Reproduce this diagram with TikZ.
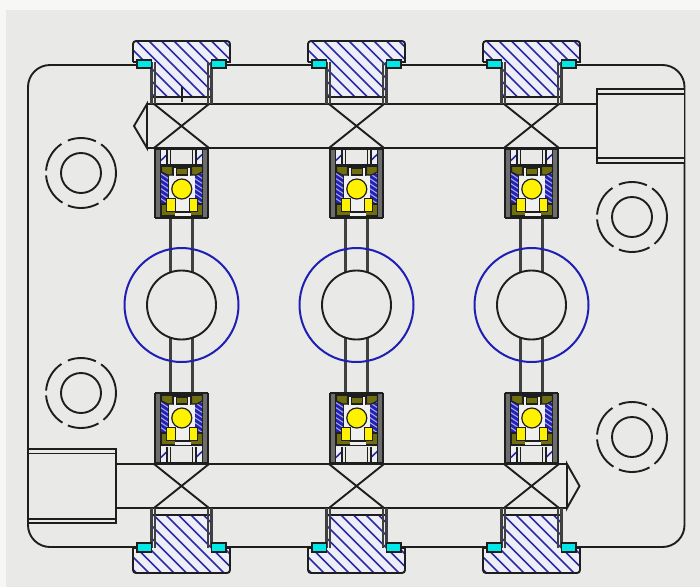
\documentclass[tikz,border=0pt]{standalone}
\definecolor{bgc}{HTML}{E9E9E7}
\definecolor{edgec}{HTML}{F7F7F5}
\definecolor{linec}{HTML}{1E1E1E}
\definecolor{hatchc}{HTML}{2A2AA8}
\definecolor{ringc}{HTML}{1F1FB4}
\definecolor{olivec}{HTML}{6F6F10}
\definecolor{yellowc}{HTML}{FFF200}
\definecolor{cyanc}{HTML}{00E8E8}
\definecolor{hatchbg}{HTML}{EEEEF6}
\definecolor{innerc}{HTML}{F0F0EE}
\tikzset{
  ln/.style={draw=linec,line width=1.9pt},
  vln/.style={draw=linec!85,line width=2.1pt},
  thin ln/.style={draw=linec,line width=1.7pt},
  hatchline/.style={draw=hatchc,line width=1.6pt},
  seal/.style={fill=cyanc,draw=linec,line width=1.6pt},
  ring/.style={draw=ringc,line width=2pt},
  olive/.style={fill=olivec,draw=linec,line width=1.2pt},
  ybox/.style={fill=yellowc,draw=linec,line width=.8pt},
}
% #1 cx, #2 outer head y, #3 join y, #4 neck end y, #5 channel y, #6 seal y1, #7 seal y2
\newcommand{\flng}[7]{
  \begin{scope}[shift={(#1,0)}]
    \begin{scope}
      \clip (-48.5,#3) [rounded corners=3pt]-- (-48.5,#2) -- (48.5,#2) [sharp corners]-- (48.5,#3) -- (30,#3) -- (30,#4) -- (-30,#4) -- (-30,#3) -- cycle;
      \fill[hatchbg] (-60,#2) rectangle (60,#4);
      \foreach \k in {-320,-307.5,...,120}
        \draw[hatchline] (\k,#2-100) -- ({\k+300},{#2+200});
    \end{scope}
    \draw[ln] (-48.5,#3) [rounded corners=3pt]-- (-48.5,#2) -- (48.5,#2) [sharp corners]-- (48.5,#3) -- (30,#3);
    \draw[ln] (-48.5,#3) -- (-30,#3);
    \draw[ln] (-29,#4) -- (29,#4);
    \draw[vln] (-30,#3) -- (-30,#5) (-26.5,#3) -- (-26.5,#5);
    \draw[vln] (30,#3) -- (30,#5) (26.5,#3) -- (26.5,#5);
    \filldraw[seal] (-44.5,#6) rectangle (-30,#7);
    \filldraw[seal] (30,#6) rectangle (44.5,#7);
  \end{scope}
}
% #1 cx, #2 y top, #3 y bottom, #4 hatch y1, #5 hatch y2
\newcommand{\bhouse}[5]{
  \begin{scope}[shift={(#1,0)}]
    \fill[bgc] (-26.5,#2) rectangle (26.5,#3);
    \fill[linec!65] (-26.5,#2) rectangle (-21,#3);
    \fill[linec!65] (21,#2) rectangle (26.5,#3);
    \foreach \s in {-1,1}{
      \begin{scope}
        \clip ({\s*21},#4) rectangle ({\s*14},#5);
        \fill[hatchbg] ({\s*21},#4) rectangle ({\s*14},#5);
        \foreach \k in {-24,-12,0,12}
          \draw[hatchline] ({\s*17.5-8+\k},#5) -- ({\s*17.5+8+\k},#4);
      \end{scope}
      \draw[thin ln] ({\s*26.5},#2) -- ({\s*26.5},#3);
      \draw[thin ln] ({\s*21},#2) -- ({\s*21},#3);
      \draw[thin ln] ({\s*14.5},#4) -- ({\s*14.5},#5);
      \draw[thin ln] ({\s*11},#4) -- ({\s*11},#5);
    }
    \draw[ln] (-26.5,#2) -- (26.5,#2);
    \draw[ln] (-26.5,#3) -- (26.5,#3);
  \end{scope}
}
% #1 cx, #2 dy (from the upper bearing's y values)
\newcommand{\binner}[2]{
  \begin{scope}[shift={(#1,#2)}]
    \fill[linec] (-21,165) rectangle (21,216);
    \fill[innerc] (-12.5,172) rectangle (13.5,206);
    \foreach \s in {-1,1}{
      \begin{scope}
        \fill[hatchc!80!blue] ({\s*13.5},172) rectangle ({\s*20.5},205);
        \clip ({\s*13.5},172) rectangle ({\s*20.5},205);
        \foreach \k in {162,167,...,206}
          \draw[white!60!hatchc,line width=1pt] ({\s*17-6},\k) -- ({\s*17+6},{\k+8});
      \end{scope}
    }
    % top block
    \filldraw[olive] (-20,166) -- (-9,166) -- (-9,175) -- (-14,175) -- (-20,172) -- cycle;
    \filldraw[olive] (21,166) -- (10,166) -- (10,175) -- (15,175) -- (21,172) -- cycle;
    \fill[innerc] (-8,168) rectangle (9,176);
    \filldraw[olive] (-5,168) rectangle (6,175);
    \draw[line width=2.6pt,draw=linec] (-21,165.5) -- (21,165.5);
    \draw[thin ln] (-8,167) -- (-8,176) (9,167) -- (9,176);
    % bottom block
    \filldraw[olive] (-20,204) -- (21,204) -- (21,216) -- (-20,216) -- cycle;
    \fill[innerc] (-7,212) rectangle (9,216);
    \fill[innerc] (-6,199) rectangle (8,211);
    \draw[thin ln] (-7,212) -- (9,212);
    \filldraw[ybox] (-15,198.5) rectangle (-6,211.5);
    \filldraw[ybox] (8,198.5) rectangle (16,211.5);
    % ball
    \filldraw[fill=yellowc,draw=linec,line width=1.2pt] (0.3,189) circle[radius=10pt];
  \end{scope}
}
% #1 cx, #2 cy
\newcommand{\dring}[2]{
  \draw[ln] (#1,#2) circle[radius=20pt];
  \foreach \a/\b in {65/112,124/176,184/238,248/300,310/415}
    \draw[draw=linec,line width=1.9pt] ({#1+35*cos(\a)},{#2-35*sin(\a)}) arc[start angle={-\a},end angle={-\b},radius=35pt];
}
\begin{document}
\begin{tikzpicture}[x=1pt,y=1pt,yscale=-1,line cap=butt]
\useasboundingbox (0,0) rectangle (700,587);
\fill[edgec] (0,0) rectangle (700,587);
\fill[bgc] (6,10) rectangle (700,587);
% body outline
\draw[ln,rounded corners=22pt] (137,65) -- (28,65) -- (28,547) -- (137,547);
\draw[ln,rounded corners=22pt] (576,65) -- (684.5,65) -- (684.5,547) -- (576,547);
\draw[ln] (226,65) -- (312,65) (401,65) -- (487,65);
\draw[ln] (226,547) -- (312,547) (401,547) -- (487,547);
% end boxes
\fill[bgc] (597,89) rectangle (684,163);
\draw[ln] (597,89) rectangle (684.5,163);
\draw[ln] (597,94) -- (684.5,94) (597,158) -- (684.5,158);
\fill[bgc] (28,449) rectangle (116,523);
\draw[ln] (28,449) rectangle (116,523);
\draw[ln] (28,453.5) -- (116,453.5) (28,519) -- (116,519);
% upper channel
\draw[ln] (147,104) -- (597,104) (147,148) -- (597,148);
\draw[ln] (147,104) -- (134,126) -- (147,148) -- cycle;
% lower channel
\draw[ln] (116,464) -- (567,464) (116,508) -- (567,508);
\draw[ln] (567,464) -- (579.5,486) -- (567,508) -- cycle;
% columns
\foreach \c in {181.5,356.5,531.5}{
  \draw[ln] ({\c-27.5},104) -- ({\c+27.5},148) ({\c+27.5},104) -- ({\c-27.5},148);
  \draw[ln] ({\c-27.5},464) -- ({\c+27.5},508) ({\c+27.5},464) -- ({\c-27.5},508);
  \draw[vln] ({\c-11},218) -- ({\c-11},272.5) ({\c+11},218) -- ({\c+11},272.5);
  \draw[vln] ({\c-11},337.5) -- ({\c-11},393) ({\c+11},337.5) -- ({\c+11},393);
  \draw[ring] (\c,305) circle[radius=57pt];
  \draw[ln] (\c,305) circle[radius=34.5pt];
  \flng{\c}{41}{62}{97}{104}{60}{68}
  \flng{\c}{573}{548}{515}{508}{543}{552}
  \bhouse{\c}{149}{218}{150}{165}
  \binner{\c}{0}
  \bhouse{\c}{393}{463}{447}{462}
  \binner{\c}{229}
}
\draw[ln] (181.7,87) -- (181.7,102);
% dashed rings
\dring{81}{173}
\dring{81}{393}
\dring{632}{217}
\dring{632}{437}
\end{tikzpicture}
\end{document}
